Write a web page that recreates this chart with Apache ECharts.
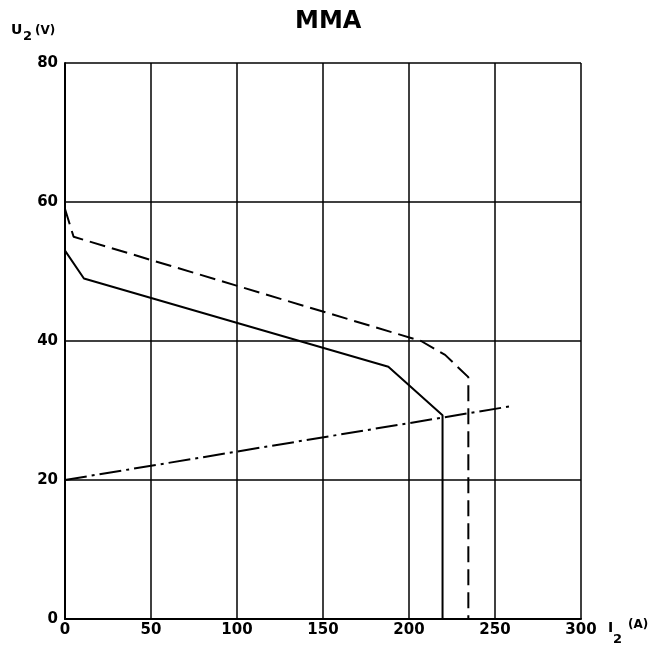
<!DOCTYPE html>
<html>
<head>
<meta charset="utf-8">
<script src="https://cdn.jsdelivr.net/npm/echarts@6/dist/echarts.min.js"></script>
<style>
  html, body { margin: 0; padding: 0; background: #fff; }
  #main { width: 664px; height: 649px; }
</style>
</head>
<body>
<div id="main"></div>
<script>
// static characteristic (solid), max setting (dashed), conventional load line (dash-dot)
var solidI = [0, 11, 188, 219.5, 219.5];
var solidU = [53, 49, 36.3, 29.3, 0];
var dashI = [0, 5, 207, 221, 234.5, 234.5];
var dashU = [59, 55, 40, 38, 34.8, 0];
var loadI = [0, 259];
var loadU = [20, 30.6];

function pairs(xs, ys) {
  return xs.map(function (x, i) { return [x, ys[i]]; });
}

var font = 'DejaVu Sans';
var chart = echarts.init(document.getElementById('main'));

function label(txt, x, y, size) {
  return {
    type: 'text', left: x, top: y,
    style: { text: txt, fontFamily: font, fontWeight: 'bold', fontSize: size, fill: '#000' }
  };
}

var option = {
  animation: false,
  backgroundColor: '#fff',
  title: {
    text: 'MMA',
    left: 290,
    top: 5,
    textStyle: { fontFamily: font, fontWeight: 'bold', fontSize: 24, color: '#000' }
  },
  grid: { left: 65, right: 83, top: 63, bottom: 30 },
  xAxis: {
    type: 'value',
    min: 0, max: 300, interval: 50,
    axisLine: { lineStyle: { color: '#000', width: 2 } },
    axisTick: { show: false },
    splitLine: { lineStyle: { color: '#000', width: 1.5 } },
    axisLabel: { color: '#000', fontFamily: font, fontWeight: 'bold', fontSize: 15, margin: 4 }
  },
  yAxis: {
    type: 'value',
    min: 0, max: 80, interval: 20,
    axisLine: { show: true, lineStyle: { color: '#000', width: 2 } },
    axisTick: { show: false },
    splitLine: { lineStyle: { color: '#000', width: 1.5 } },
    axisLabel: { color: '#000', fontFamily: font, fontWeight: 'bold', fontSize: 15, margin: 7 }
  },
  graphic: [
    label('U', 11, 23, 14),
    label('2', 23, 30, 13),
    label('(V)', 35, 25, 12),
    label('I', 608, 621, 14),
    label('2', 613, 633, 13),
    label('(A)', 628, 619, 12)
  ],
  series: [
    {
      type: 'line', data: pairs(solidI, solidU), symbol: 'none',
      lineStyle: { color: '#000', width: 2 }
    },
    {
      type: 'line', data: pairs(dashI, dashU), symbol: 'none',
      lineStyle: { color: '#000', width: 2, type: [16, 7] }
    },
    {
      type: 'line', data: pairs(loadI, loadU), symbol: 'none',
      lineStyle: { color: '#000', width: 2, type: [22, 5, 3, 5] }
    }
  ]
};

chart.setOption(option);
</script>
</body>
</html>
